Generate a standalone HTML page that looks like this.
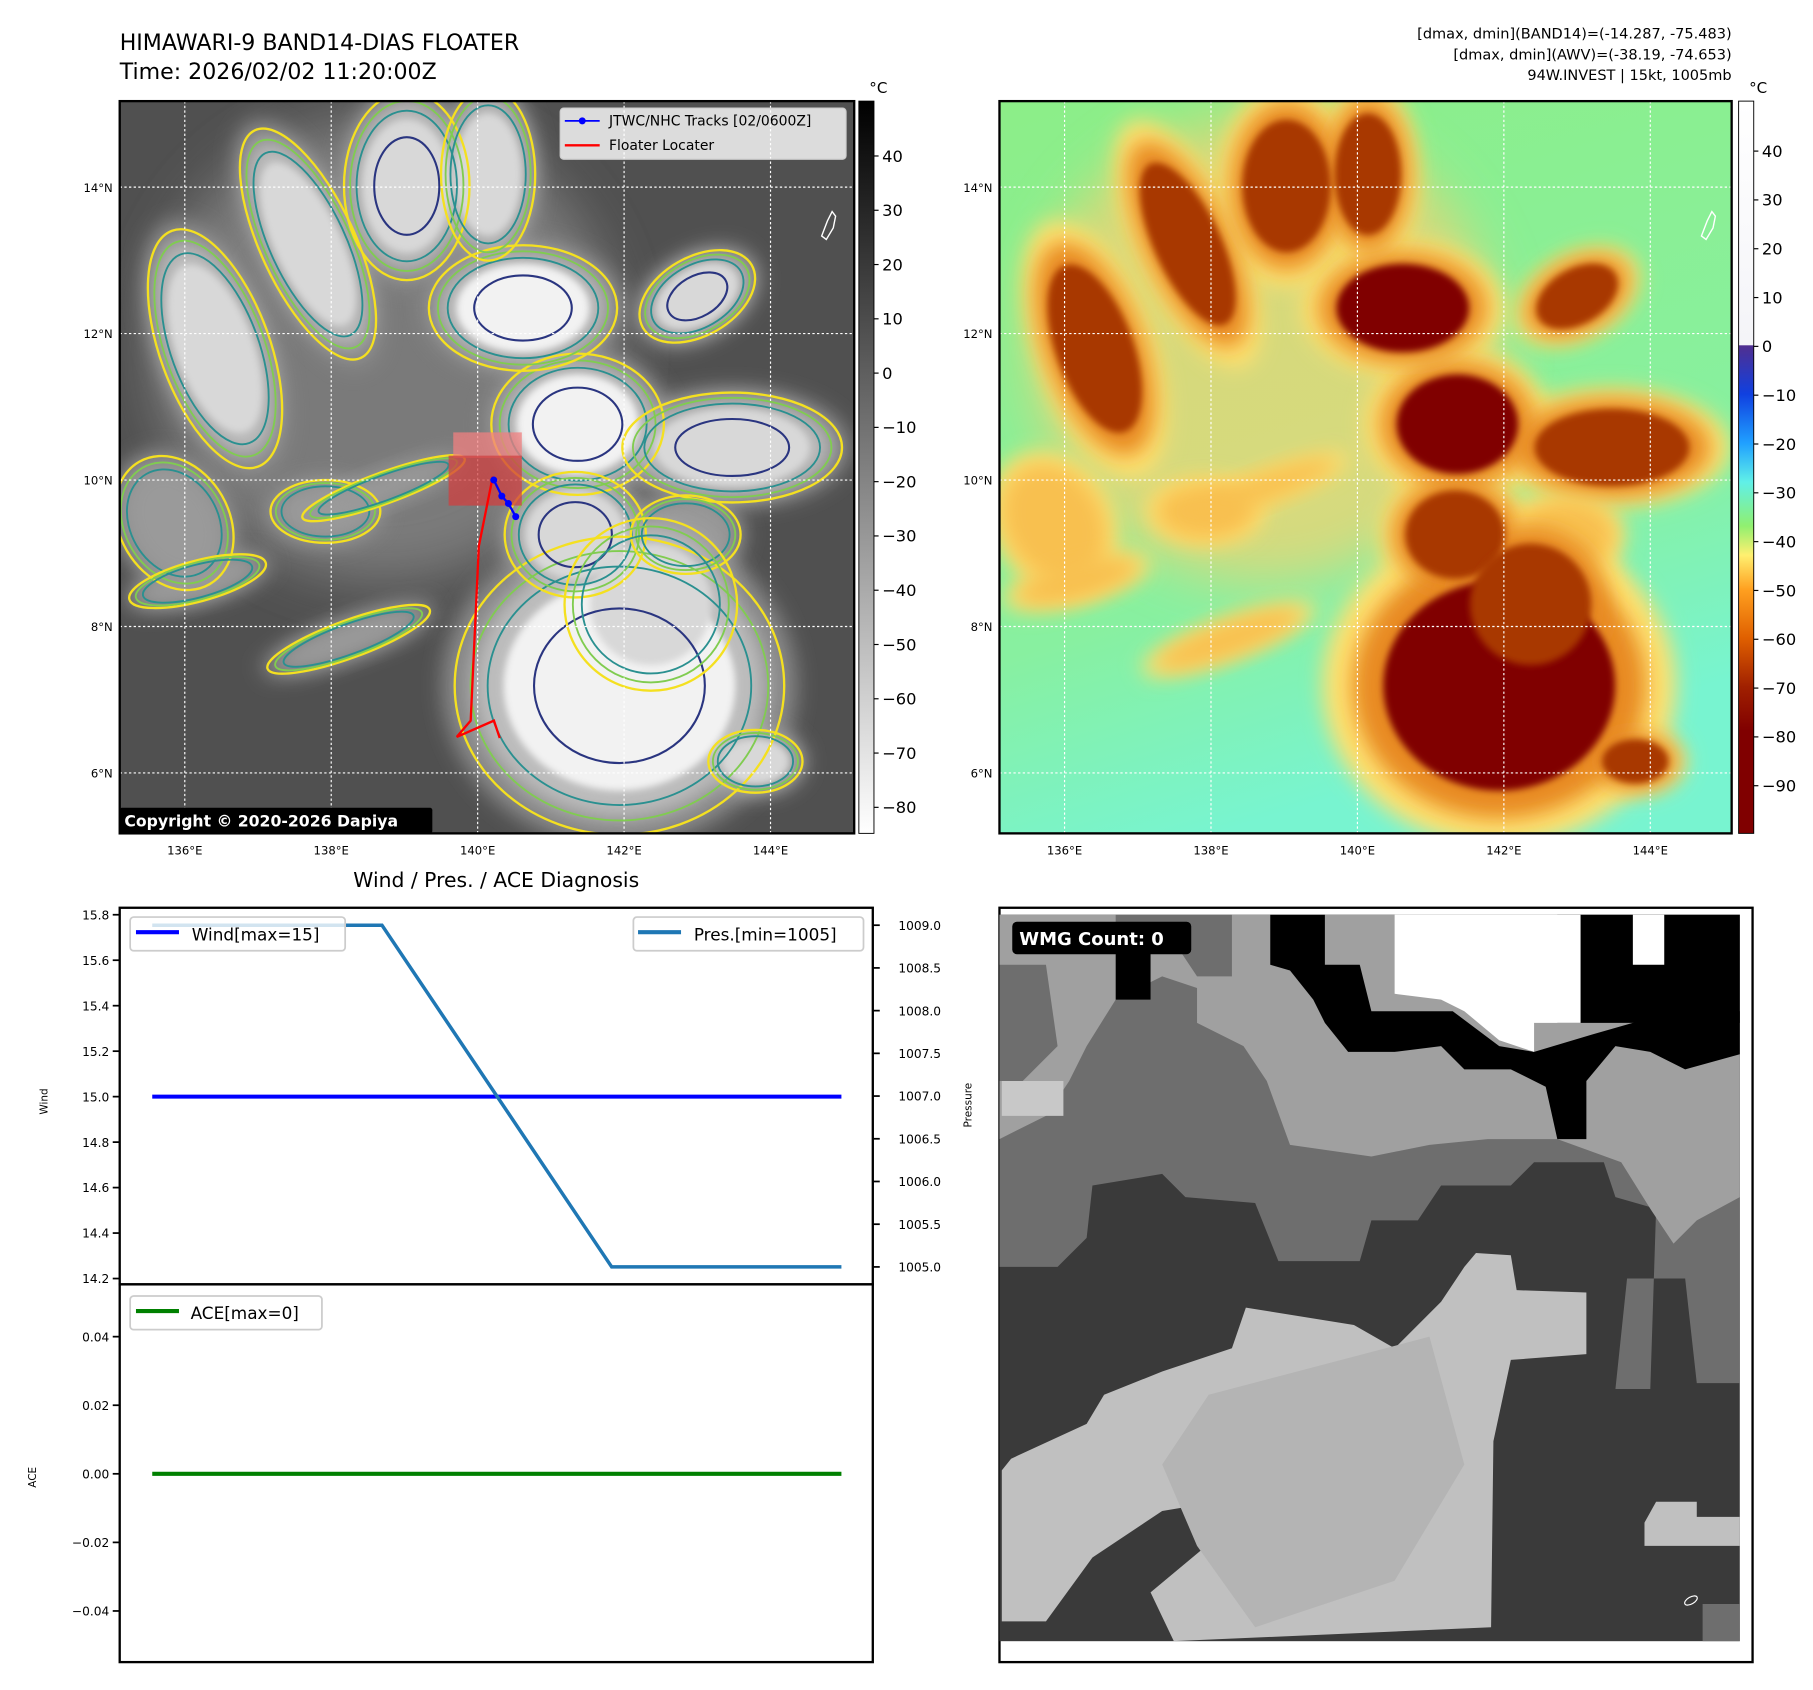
<!DOCTYPE html>
<html><head><meta charset="utf-8">
<style>
html,body{margin:0;padding:0;background:#fff;}
svg{display:block;font-family:"DejaVu Sans","Liberation Sans",sans-serif;}
</style></head>
<body>
<svg id="root" width="1813" height="1690" viewBox="0 0 1560 1454" preserveAspectRatio="none" xmlns="http://www.w3.org/2000/svg">
<defs>
  <filter id="blur8" x="-50%" y="-50%" width="200%" height="200%"><feGaussianBlur stdDeviation="9"/></filter>
  <filter id="blur3" x="-50%" y="-50%" width="200%" height="200%"><feGaussianBlur stdDeviation="3"/></filter>
  <filter id="blur20" x="-50%" y="-50%" width="200%" height="200%"><feGaussianBlur stdDeviation="22"/></filter>
  <clipPath id="clipL"><rect x="103" y="87" width="632" height="630"/></clipPath>
  <clipPath id="clipR"><rect x="860" y="87" width="630" height="630"/></clipPath>
  <linearGradient id="cbL" x1="0" y1="0" x2="0" y2="1">
    <stop offset="0" stop-color="#000"/><stop offset="1" stop-color="#fff"/>
  </linearGradient>
  <linearGradient id="cbR" x1="0" y1="0" x2="0" y2="1">
    <stop offset="0" stop-color="#ffffff"/>
    <stop offset="0.333" stop-color="#f4f4f8"/>
    <stop offset="0.334" stop-color="#502f90"/>
    <stop offset="0.4" stop-color="#1040e0"/>
    <stop offset="0.467" stop-color="#20a0ff"/>
    <stop offset="0.52" stop-color="#60f0e8"/>
    <stop offset="0.58" stop-color="#90f070"/>
    <stop offset="0.62" stop-color="#fff070"/>
    <stop offset="0.667" stop-color="#ffa020"/>
    <stop offset="0.733" stop-color="#e06000"/>
    <stop offset="0.8" stop-color="#a02000"/>
    <stop offset="0.86" stop-color="#800000"/>
    <stop offset="1" stop-color="#800000"/>
  </linearGradient>
  <linearGradient id="bgR" x1="0" y1="0" x2="0.3" y2="1">
    <stop offset="0" stop-color="#8cee88"/><stop offset="0.7" stop-color="#88f0a0"/><stop offset="1" stop-color="#78f4d0"/>
  </linearGradient>
</defs>

<text x="103" y="43" font-size="19">HIMAWARI-9 BAND14-DIAS FLOATER</text>
<text x="103" y="68" font-size="19">Time: 2026/02/02 11:20:00Z</text>
<g font-size="12.5" text-anchor="end">
  <text x="1490" y="33">[dmax, dmin](BAND14)=(-14.287, -75.483)</text>
  <text x="1490" y="51">[dmax, dmin](AWV)=(-38.19, -74.653)</text>
  <text x="1490" y="69">94W.INVEST | 15kt, 1005mb</text>
</g>

<g id="mapL" clip-path="url(#clipL)">
  <rect x="103" y="87" width="632" height="630" fill="#505050"/>
</g>
<g id="mapR" clip-path="url(#clipR)">
  <rect x="860" y="87" width="630" height="630" fill="url(#bgR)"/>
</g>
<g id="overlays"></g>

<rect x="103" y="87" width="632" height="630" fill="none" stroke="#000" stroke-width="2"/>
<rect x="860" y="87" width="630" height="630" fill="none" stroke="#000" stroke-width="2"/>

<g>
  <rect x="482" y="93" width="246" height="44" rx="3" fill="#fff" fill-opacity="0.8" stroke="#ccc"/>
  <line x1="486" y1="104" x2="516" y2="104" stroke="#00f" stroke-width="1.6"/>
  <circle cx="501" cy="104" r="3" fill="#00f"/>
  <text x="524" y="108" font-size="12">JTWC/NHC Tracks [02/0600Z]</text>
  <line x1="486" y1="125" x2="516" y2="125" stroke="#f00" stroke-width="2"/>
  <text x="524" y="129" font-size="12">Floater Locater</text>
</g>
<g>
  <rect x="103" y="695" width="269" height="22" rx="2" fill="#000"/>
  <text x="107" y="711" font-size="13.5" font-weight="bold" fill="#fff">Copyright © 2020-2026 Dapiya</text>
</g>

<rect x="739" y="87" width="13" height="630" fill="url(#cbL)" stroke="#000" stroke-width="0.8"/>
<text x="748" y="80" font-size="13">°C</text>
<g id="cbLticks" font-size="14"></g>
<rect x="1496" y="87" width="13" height="630" fill="url(#cbR)" stroke="#000" stroke-width="0.8"/>
<text x="1505" y="80" font-size="13">°C</text>
<g id="cbRticks" font-size="14"></g>

<text x="427" y="763" font-size="17.5" text-anchor="middle">Wind / Pres. / ACE Diagnosis</text>
<g id="windChart"></g>
<g id="aceChart"></g>

<g>
  <rect x="860" y="781" width="648" height="649" fill="#fff" stroke="#000" stroke-width="2"/>
  <g>
    <rect x="860" y="787" width="637" height="625" fill="#3a3a3a"/>
    <polygon fill="#6e6e6e" points="860,787 1497,787 1497,1190 1460,1190 1450,1100 1400,1100 1390,1195 1420,1195 1425,1040 1390,1030 1380,1000 1320,1000 1300,1020 1240,1020 1220,1050 1180,1050 1170,1085 1100,1085 1080,1035 1020,1030 1000,1010 940,1020 935,1065 910,1090 860,1090"/>
    <polygon fill="#a0a0a0" points="860,787 1497,787 1497,1030 1460,1050 1440,1070 1420,1040 1395,1000 1340,980 1280,980 1230,985 1180,995 1110,985 1090,930 1070,900 1030,880 1030,850 1000,840 960,860 935,900 920,930 900,960 860,980"/>
    <polygon fill="#6e6e6e" points="960,787 1060,787 1060,840 1030,840 1010,810 960,810"/>
    <polygon fill="#6e6e6e" points="860,830 900,830 910,900 880,930 860,930"/>
    <polygon fill="#c8c8c8" points="862,930 915,930 915,960 862,960"/>
    <polygon fill="#000" points="1093,787 1140,787 1140,830 1170,830 1180,870 1250,870 1290,900 1320,905 1370,890 1440,870 1497,870 1497,907 1450,920 1420,905 1390,900 1365,930 1365,980 1340,980 1330,935 1300,920 1260,920 1240,900 1200,905 1160,905 1140,880 1130,860 1110,835 1093,830"/>
    <polygon fill="#000" points="1340,787 1497,787 1497,880 1340,880"/>
    <polygon fill="#fff" points="1200,787 1360,787 1360,880 1320,880 1320,905 1290,895 1260,870 1240,860 1200,855"/>
    <polygon fill="#fff" points="1405,787 1432,787 1432,830 1405,830"/>
    <polygon fill="#000" points="960,820 990,820 990,860 960,860"/>
    <polygon fill="#c0c0c0" points="1270,1078 1300,1080 1305,1110 1365,1112 1365,1165 1300,1170 1285,1240 1283,1400 1010,1412 990,1370 1050,1320 1080,1300 1060,1290 1000,1300 940,1340 900,1395 862,1395 862,1265 870,1255 935,1225 950,1200 1000,1180 1060,1160 1072,1125 1165,1140 1200,1160 1240,1120 1260,1090"/>
    <polygon fill="#b4b4b4" points="1040,1200 1230,1150 1260,1260 1200,1360 1080,1400 1030,1330 1000,1260"/>
    <polygon fill="#c0c0c0" points="1425,1292 1460,1292 1460,1305 1497,1305 1497,1330 1415,1330 1415,1310"/>
    <polygon fill="#6e6e6e" points="1465,1380 1497,1380 1497,1412 1465,1412"/>
    <ellipse cx="1455" cy="1377" rx="6" ry="3" fill="none" stroke="#fff" stroke-width="1" transform="rotate(-30 1455 1377)"/>
  </g>
  <rect x="871" y="793" width="154" height="28" rx="4" fill="#000"/>
  <text x="877" y="813" font-size="15.5" font-weight="bold" fill="#fff">WMG Count: 0</text>
</g>

<script>
const timeIndex = [0, 1, 2, 3];
const windValues = [15, 15, 15, 15];
const presValues = [1009, 1009, 1005, 1005];
const aceValues = [0, 0, 0, 0];
const windTicks = [14.2, 14.4, 14.6, 14.8, 15.0, 15.2, 15.4, 15.6, 15.8];
const presTicks = [1005.0, 1005.5, 1006.0, 1006.5, 1007.0, 1007.5, 1008.0, 1008.5, 1009.0];
const aceTicks = [-0.04, -0.02, 0.00, 0.02, 0.04];
const cbLTicks = [40, 30, 20, 10, 0, -10, -20, -30, -40, -50, -60, -70, -80];
const cbRTicks = [40, 30, 20, 10, 0, -10, -20, -30, -40, -50, -60, -70, -80, -90];
const latTicks = [14, 12, 10, 8, 6];
const lonTicks = [136, 138, 140, 142, 144];
const trackLat = [10.0, 9.78, 9.68, 9.5];
const trackLon = [140.22, 140.33, 140.42, 140.52];

const NS = "http://www.w3.org/2000/svg";
function mk(tag, attrs, parent) {
  const e = document.createElementNS(NS, tag);
  for (const k in attrs) e.setAttribute(k, attrs[k]);
  if (parent) parent.appendChild(e);
  return e;
}
function fmt(v, d){ return (v<0?"\u2212":"") + Math.abs(v).toFixed(d); }

const xT = i => 131 + (724 - 131) * i / 3;
const yWind = v => 787 + (15.8 - v) * (1100 - 787) / 1.6;
const yPres = v => 796 + (1009 - v) * (1090 - 796) / 4;
const yAce = v => 1268 - v * (1268 - 1150) / 0.04;
const lonX = (lon, off) => off + 159 + (lon - 136) * 63;
const latY = lat => 413 - (lat - 10) * 63;
const cbLY = v => 321 - v * 4.67;
const cbRY = v => 298 - v * 4.2;

const mapL = document.getElementById('mapL');
const mapR = document.getElementById('mapR');
// broad diffuse background cloud (no contours)
mk('ellipse',{cx:330,cy:300,rx:200,ry:200,fill:'#7a7a7a',filter:'url(#blur20)'},mapL);
mk('ellipse',{cx:1087,cy:300,rx:200,ry:200,fill:'#f6d070','fill-opacity':0.7,filter:'url(#blur20)'},mapR);
const blobs = [
  [533,590,105,95,0,1],[497,365,55,45,0,1],[450,265,60,40,0,1],[600,255,40,25,-30,0.9],
  [630,385,70,35,0,0.8],[495,460,45,40,0,0.8],[650,655,30,20,0,0.7],[185,300,35,80,-20,0.75],
  [265,210,30,80,-25,0.75],[350,160,40,60,0,0.8],[420,150,30,55,0,0.75],[150,450,35,45,-30,0.55],
  [280,440,35,20,0,0.5],[300,550,55,12,-20,0.45],[170,500,45,13,-15,0.45],[590,460,35,25,0,0.55],
  [330,420,55,10,-20,0.45],[560,520,55,55,0,0.7]
];
function ell(par, b, s, fill, stroke, sw, filt, dx) {
  const a = {cx:b[0]+dx, cy:b[1], rx:b[2]*s, ry:b[3]*s, transform:`rotate(${b[4]} ${b[0]+dx} ${b[1]})`};
  a.fill = fill || 'none';
  if (stroke) { a.stroke = stroke; a['stroke-width'] = sw; }
  if (filt) a.filter = filt;
  return mk('ellipse', a, par);
}
const gL = mk('g', {}, mapL), gR = mk('g', {}, mapR);
blobs.forEach(b => { ell(gL,b,1.45,'#8a8a8a',null,0,'url(#blur8)',0); ell(gR,b,1.45,'#ffe070',null,0,'url(#blur8)',757); });
blobs.forEach(b => { ell(gL,b,1.2,b[5]>0.6?'#bdbdbd':'#9a9a9a',null,0,'url(#blur8)',0); ell(gR,b,1.2,b[5]>0.6?'#e88a20':'#f8c050',null,0,'url(#blur8)',757); });
blobs.forEach(b => {
  if (b[5] < 0.6) return;
  ell(gL,b,0.95,b[5]>0.9?'#f2f2f2':'#d8d8d8',null,0,'url(#blur3)',0);
  ell(gR,b,0.95,b[5]>0.9?'#800000':'#a83800',null,0,'url(#blur3)',757);
});
const cL = mk('g', {}, mapL);
blobs.forEach(b => {
  ell(cL,b,1.35,null,'#f4e020',2,null,0);
  ell(cL,b,1.22,null,'#80cc50',1.6,null,0);
  ell(cL,b,1.08,null,'#2a9090',1.6,null,0);
  if (b[5] >= 0.8) ell(cL,b,0.7,null,'#2a3580',1.8,null,0);
});
[[mapL,0],[mapR,757]].forEach(([m,off]) => {
  latTicks.forEach(la => mk('line',{x1:off+103,x2:off+735,y1:latY(la),y2:latY(la),stroke:'#fff','stroke-width':1,'stroke-dasharray':'2,2'},m));
  lonTicks.forEach(lo => mk('line',{x1:lonX(lo,off),x2:lonX(lo,off),y1:87,y2:717,stroke:'#fff','stroke-width':1,'stroke-dasharray':'2,2'},m));
  mk('path',{d:`M${off+712} ${190} l4 -8 l3 4 l-2 10 l-6 10 l-4 -3 z`,fill:'none',stroke:'#fff','stroke-width':1.2},m);
});
const ov = document.getElementById('overlays');
[[0,103],[757,860]].forEach(([off,lx]) => {
  latTicks.forEach(la => {
    const t = mk('text',{x:lx-6,y:latY(la)+4,'font-size':10,'text-anchor':'end'},ov);
    t.textContent = la + '°N';
    
    
  });
  lonTicks.forEach(lo => {
    const t = mk('text',{x:lonX(lo,off),y:735,'font-size':10,'text-anchor':'middle'},ov);
    t.textContent = lo + '°E';
    
    
  });
});
mk('rect',{x:390,y:372,width:59,height:22,fill:'#f08080','fill-opacity':0.75},mapL);
mk('rect',{x:386,y:392,width:63,height:43,fill:'#d04040','fill-opacity':0.75},mapL);
const floater = mk('polyline',{points:'424,410 412,470 405,620 393,634 425,620 430,635',fill:'none',stroke:'#f00','stroke-width':2},mapL);


const trk = mk('polyline',{points:trackLon.map((lo,i)=>lonX(lo,0)+','+latY(trackLat[i])).join(' '),fill:'none',stroke:'#00f','stroke-width':2},mapL);


trackLon.forEach((lo,i) => {
  const c = mk('circle',{cx:lonX(lo,0),cy:latY(trackLat[i]),r:3,fill:'#00f'},mapL);
  
  
});

const cbl = document.getElementById('cbLticks');
cbLTicks.forEach(v => {
  mk('line',{x1:752,x2:756,y1:cbLY(v),y2:cbLY(v),stroke:'#000'},cbl);
  const t = mk('text',{x:759,y:cbLY(v)+5},cbl); t.textContent = fmt(v,0);
  
  
});
const cbr = document.getElementById('cbRticks');
cbRTicks.forEach(v => {
  mk('line',{x1:1509,x2:1513,y1:cbRY(v),y2:cbRY(v),stroke:'#000'},cbr);
  const t = mk('text',{x:1516,y:cbRY(v)+5},cbr); t.textContent = fmt(v,0);
  
  
});

const wc = document.getElementById('windChart');
mk('rect',{x:103,y:781,width:648,height:324,fill:'#fff',stroke:'#000','stroke-width':2},wc);
windTicks.forEach(v => {
  mk('line',{x1:97,x2:103,y1:yWind(v),y2:yWind(v),stroke:'#000','stroke-width':1.5},wc);
  const t = mk('text',{x:94,y:yWind(v)+4,'font-size':10.5,'text-anchor':'end'},wc); t.textContent = v.toFixed(1);
  
  
});
presTicks.forEach(v => {
  mk('line',{x1:751,x2:757,y1:yPres(v),y2:yPres(v),stroke:'#000','stroke-width':1.5},wc);
  const t = mk('text',{x:773,y:yPres(v)+4,'font-size':10.5},wc); t.textContent = v.toFixed(1);
  
  
});
const wl = mk('polyline',{points:timeIndex.map(i=>xT(i)+','+yWind(windValues[i])).join(' '),fill:'none',stroke:'#0000ff','stroke-width':3.5},wc);


const pl = mk('polyline',{points:timeIndex.map(i=>xT(i)+','+yPres(presValues[i])).join(' '),fill:'none',stroke:'#1f77b4','stroke-width':3},wc);


let t1 = mk('text',{x:0,y:0,'font-size':9,transform:'translate(41 959) rotate(-90)'},wc); t1.textContent='Wind';
 
let t2 = mk('text',{x:0,y:0,'font-size':9,transform:'translate(836 970) rotate(-90)'},wc); t2.textContent='Pressure';
 
const lg1 = mk('g',{},wc);
 
mk('rect',{x:112,y:789,width:185,height:29,rx:3,fill:'#fff','fill-opacity':0.8,stroke:'#ccc','stroke-width':1.5},lg1);
mk('line',{x1:117,x2:154,y1:802,y2:802,stroke:'#00f','stroke-width':3.5},lg1);
mk('text',{x:165,y:809,'font-size':14.5},lg1).textContent='Wind[max=15]';
const lg2 = mk('g',{},wc);
 
mk('rect',{x:545,y:789,width:198,height:29,rx:3,fill:'#fff','fill-opacity':0.8,stroke:'#ccc','stroke-width':1.5},lg2);
mk('line',{x1:549,x2:586,y1:802,y2:802,stroke:'#1f77b4','stroke-width':3.5},lg2);
mk('text',{x:597,y:809,'font-size':14.5},lg2).textContent='Pres.[min=1005]';

const ac = document.getElementById('aceChart');
mk('rect',{x:103,y:1105,width:648,height:325,fill:'none',stroke:'#000','stroke-width':2},ac);
aceTicks.forEach(v => {
  mk('line',{x1:97,x2:103,y1:yAce(v),y2:yAce(v),stroke:'#000','stroke-width':1.5},ac);
  const t = mk('text',{x:94,y:yAce(v)+4,'font-size':10.5,'text-anchor':'end'},ac); t.textContent = fmt(v,2);
  
  
});
const al = mk('polyline',{points:timeIndex.map(i=>xT(i)+','+yAce(aceValues[i])).join(' '),fill:'none',stroke:'#008000','stroke-width':3.5},ac);


let t3 = mk('text',{x:0,y:0,'font-size':9,transform:'translate(31 1280) rotate(-90)'},ac); t3.textContent='ACE';
 
const lg3 = mk('g',{},ac);
 
mk('rect',{x:112,y:1115,width:165,height:29,rx:3,fill:'#fff','fill-opacity':0.8,stroke:'#ccc','stroke-width':1.5},lg3);
mk('line',{x1:117,x2:154,y1:1128,y2:1128,stroke:'#008000','stroke-width':3.5},lg3);
mk('text',{x:164,y:1135,'font-size':14.5},lg3).textContent='ACE[max=0]';
</script>
</body></html>
